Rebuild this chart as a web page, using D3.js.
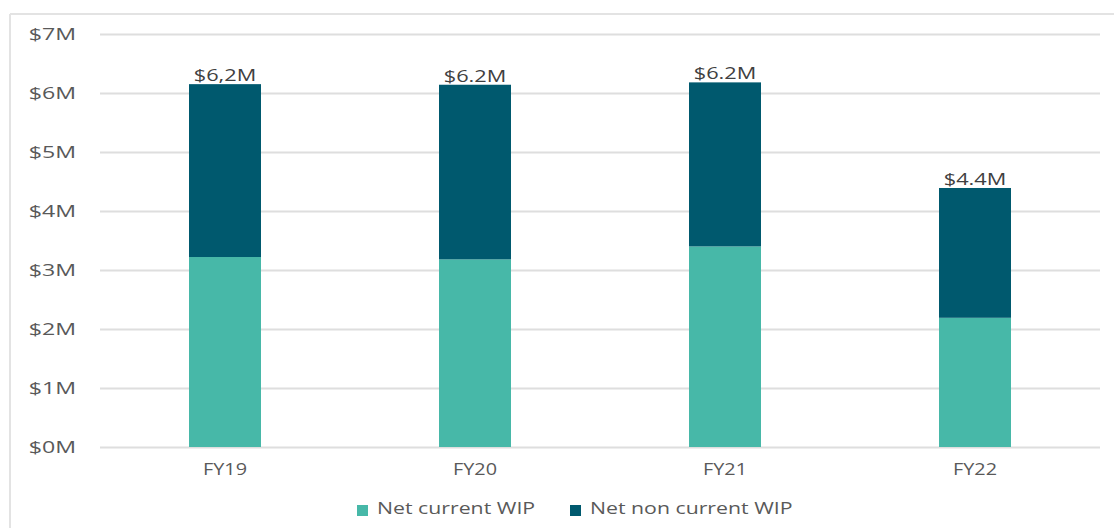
<!DOCTYPE html>
<html>
<head>
<meta charset="utf-8">
<script src="https://cdn.jsdelivr.net/npm/d3@7"></script>
<style>
  html, body { margin: 0; padding: 0; background: #fff; }
  text { font-family: "Open Sans", "Noto Sans", sans-serif; }
</style>
</head>
<body>
<svg id="chart" width="1114" height="528"></svg>
<script>
const categories = ["FY19", "FY20", "FY21", "FY22"];
const netCurrentWIP = [3.22, 3.18, 3.40, 2.19];
const netNonCurrentWIP = [2.93, 2.96, 2.78, 2.20];
const totalLabels = ["$6,2M", "$6.2M", "$6.2M", "$4.4M"];
const yTicks = [0, 1, 2, 3, 4, 5, 6, 7];
const seriesNames = ["Net current WIP", "Net non current WIP"];
const seriesColors = ["#47B8A8", "#00596E"];

const svg = d3.select("#chart");
const W = 1114, H = 528;
const SX = 1.28; // horizontal text stretch

// outer frame (top and left edges visible)
svg.append("line").attr("x1", 10).attr("x2", W).attr("y1", 14).attr("y2", 14)
  .attr("stroke", "#e3e3e3").attr("stroke-width", 2);
svg.append("line").attr("x1", 10).attr("x2", 10).attr("y1", 14).attr("y2", H)
  .attr("stroke", "#e3e3e3").attr("stroke-width", 2);

const x = d3.scaleBand().domain(categories).range([100, 1100]).paddingInner(0.712).paddingOuter(0.356);
const y = d3.scaleLinear().domain([0, 7]).range([447, 34]);

// gridlines
const yAxis = d3.axisLeft(y).tickValues(yTicks).tickSize(-1000).tickFormat("");
const gy = svg.append("g").attr("transform", "translate(100,0)").call(yAxis);
gy.select(".domain").remove();
gy.selectAll(".tick line").attr("stroke", "#dedede").attr("stroke-width", 2);

// y tick labels
svg.append("g").selectAll("g").data(yTicks).join("g")
  .attr("transform", d => `translate(76,${y(d)}) scale(1.45,1)`)
  .append("text")
  .attr("text-anchor", "end").attr("dy", "0.36em")
  .attr("font-size", 16).attr("fill", "#595959")
  .text(d => `$${d}M`);

// stacked data
const rows = categories.map((c, i) => ({ cat: c, a: netCurrentWIP[i], b: netNonCurrentWIP[i] }));
const stack = d3.stack().keys(["a", "b"])(rows);

svg.append("g").selectAll("g").data(stack).join("g")
  .attr("fill", (d, i) => seriesColors[i])
  .selectAll("rect").data(d => d).join("rect")
  .attr("x", d => x(d.data.cat))
  .attr("width", x.bandwidth())
  .attr("y", d => y(d[1]))
  .attr("height", d => y(d[0]) - y(d[1]));

// total labels
svg.append("g").selectAll("g").data(rows).join("g")
  .attr("transform", (d, i) => `translate(${x(d.cat) + x.bandwidth() / 2},${y(d.a + d.b) - 3}) scale(${SX},1)`)
  .append("text")
  .attr("text-anchor", "middle")
  .attr("font-size", 17).attr("fill", "#404040")
  .text((d, i) => totalLabels[i]);

// x labels
svg.append("g").selectAll("g").data(categories).join("g")
  .attr("transform", d => `translate(${x(d) + x.bandwidth() / 2},475) scale(${SX - 0.04},1)`)
  .append("text")
  .attr("text-anchor", "middle")
  .attr("font-size", 16).attr("fill", "#595959")
  .text(d => d);

// legend
const legendX = [357, 570];
const lg = svg.append("g").selectAll("g").data(seriesNames).join("g")
  .attr("transform", (d, i) => `translate(${legendX[i]},0)`);
lg.append("rect").attr("x", 0).attr("y", 505).attr("width", 11).attr("height", 11)
  .attr("fill", (d, i) => seriesColors[i]);
lg.append("g").attr("transform", `translate(20,514) scale(1.33,1)`)
  .append("text").attr("font-size", 16).attr("fill", "#595959")
  .text(d => d);
</script>
</body>
</html>
